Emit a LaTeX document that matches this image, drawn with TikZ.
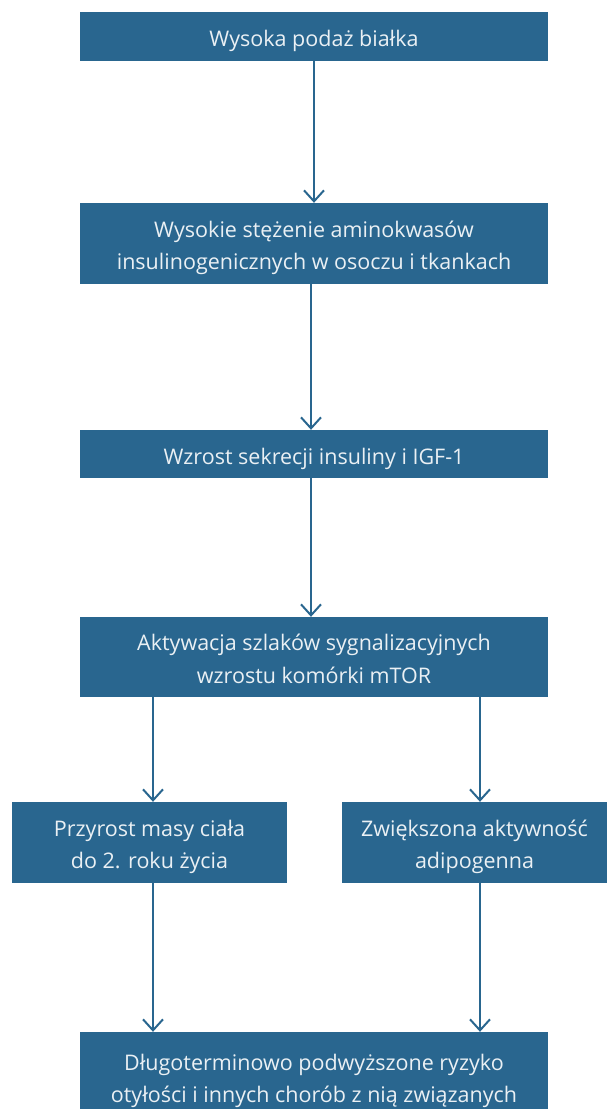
\documentclass[tikz,border=0pt]{standalone}
\usepackage{fontspec}
\setmainfont{Open Sans}
\usetikzlibrary{arrows.meta}
\definecolor{boxblue}{RGB}{41,102,143}
\definecolor{boxtext}{RGB}{234,240,244}
\newcommand{\bxt}[1]{\raisebox{-3.5pt}[\height][\depth]{\begin{tabular}{@{}c@{}}#1\end{tabular}}}
\begin{document}
\begin{tikzpicture}[x=1pt,y=-1pt,
  box/.style={fill=boxblue, text=boxtext, inner sep=0pt,
    font=\fontsize{21.5}{32.5}\selectfont},
  arr/.style={draw=boxblue, line width=2pt,
    -{Straight Barb[length=11pt,width=20pt,line width=2pt]}}]
\useasboundingbox (0,0) rectangle (607,1109);
\node[box, minimum width=468pt, minimum height=49pt] (b1) at (314,36.5) {\bxt{Wysoka podaż białka}};
\node[box, minimum width=468pt, minimum height=81pt] (b2) at (314,243.5) {\bxt{Wysokie stężenie aminokwasów\\insulinogenicznych w osoczu i tkankach}};
\node[box, minimum width=468pt, minimum height=48pt] (b3) at (314,454) {\bxt{Wzrost sekrecji insuliny i IGF-1}};
\node[box, minimum width=468pt, minimum height=80pt] (b4) at (314,657) {\bxt{Aktywacja szlaków sygnalizacyjnych\\wzrostu komórki mTOR}};
\node[box, minimum width=275pt, minimum height=81pt] (b5) at (149.5,842.5) {\bxt{Przyrost masy ciała\\do 2. roku życia}};
\node[box, minimum width=265pt, minimum height=81pt] (b6) at (474.5,842.5) {\bxt{Zwiększona aktywność\\adipogenna}};
\node[box, minimum width=468pt, minimum height=89pt] (b7) at (314,1076.5) {\bxt{Długoterminowo podwyższone ryzyko\\otyłości i innych chorób z nią związanych}};
\draw[arr] (b1.south) -- (b2.north);
\draw[arr] ([xshift=-3pt]b2.south) -- ([xshift=-3pt]b3.north);
\draw[arr] ([xshift=-3pt]b3.south) -- ([xshift=-3pt]b4.north);
\draw[arr] ([xshift=3.5pt]b4.south -| b5.north) -- ([xshift=3.5pt]b5.north);
\draw[arr] ([xshift=5.5pt]b4.south -| b6.north) -- ([xshift=5.5pt]b6.north);
\draw[arr] ([xshift=3.5pt]b5.south) -- ([xshift=3.5pt]b5.south |- b7.north);
\draw[arr] ([xshift=5.5pt]b6.south) -- ([xshift=5.5pt]b6.south |- b7.north);
\end{tikzpicture}
\end{document}
